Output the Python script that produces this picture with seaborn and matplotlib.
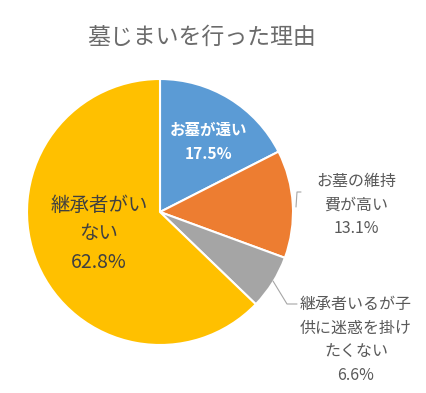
import numpy as np
import matplotlib.pyplot as plt
import seaborn as sns

# data
categories = ["お墓が遠い", "お墓の維持費が高い", "継承者いるが子供に迷惑を掛けたくない", "継承者がいない"]
label_texts = ["お墓が遠い", "お墓の維持\n費が高い", "継承者いるが子\n供に迷惑を掛け\nたくない", "継承者がい\nない"]
shares = [17.5, 13.1, 6.6, 62.8]
colors = ["#5B9BD5", "#ED7D31", "#A5A5A5", "#FFC000"]
title = "墓じまいを行った理由"

sns.set_theme(style="white")
plt.rcParams['font.family'] = ['Noto Sans CJK JP', 'DejaVu Sans']

fig = plt.figure(figsize=(4.27, 3.93), dpi=100)
W, H = 427, 393
cx, cy, r = 160, 212, 133
ax = fig.add_axes([(cx - r) / W, (H - cy - r) / H, 2 * r / W, 2 * r / H])

wedges, _ = ax.pie(shares, colors=colors, startangle=90, counterclock=False,
                   wedgeprops=dict(edgecolor="white", linewidth=1.5))
ax.set_xlim(-1, 1)
ax.set_ylim(-1, 1)
ax.set_aspect("equal")
ax.axis("off")


def px(x, y):
    # pixel position in the figure -> data coords of the pie axes
    return (x - cx) / r, (cy - y) / r


grey = "#595959"
pcts = [f"{v:.1f}%" for v in shares]

x, y = px(209, 142)
ax.text(x, y, label_texts[0] + "\n" + pcts[0], ha="center", va="center",
        color="white", fontsize=11.2, fontweight="bold", linespacing=1.6)

x, y = px(356, 205)
ax.text(x, y, label_texts[1] + "\n" + pcts[1], ha="center", va="center",
        color=grey, fontsize=11.5, linespacing=1.5)

x, y = px(356, 340)
ax.text(x, y, label_texts[2] + "\n" + pcts[2], ha="center", va="center",
        color=grey, fontsize=11.5, linespacing=1.5)

x, y = px(99, 234)
ax.text(x, y, label_texts[3] + "\n" + pcts[3], ha="center", va="center",
        color="#404040", fontsize=14, linespacing=1.5)

# leader lines
p = [px(296, 207), px(297, 192), px(301, 192)]
ax.plot([a for a, b in p], [b for a, b in p], color="#A6A6A6", lw=0.8, clip_on=False)
p = [px(273, 281), px(287, 304), px(297, 304)]
ax.plot([a for a, b in p], [b for a, b in p], color="#A6A6A6", lw=0.8, clip_on=False)

fig.text(202 / W, 1 - 37 / H, title, ha="center", va="center", color="#6b6b6b", fontsize=16.5)

fig.savefig("out.png", dpi=100)
